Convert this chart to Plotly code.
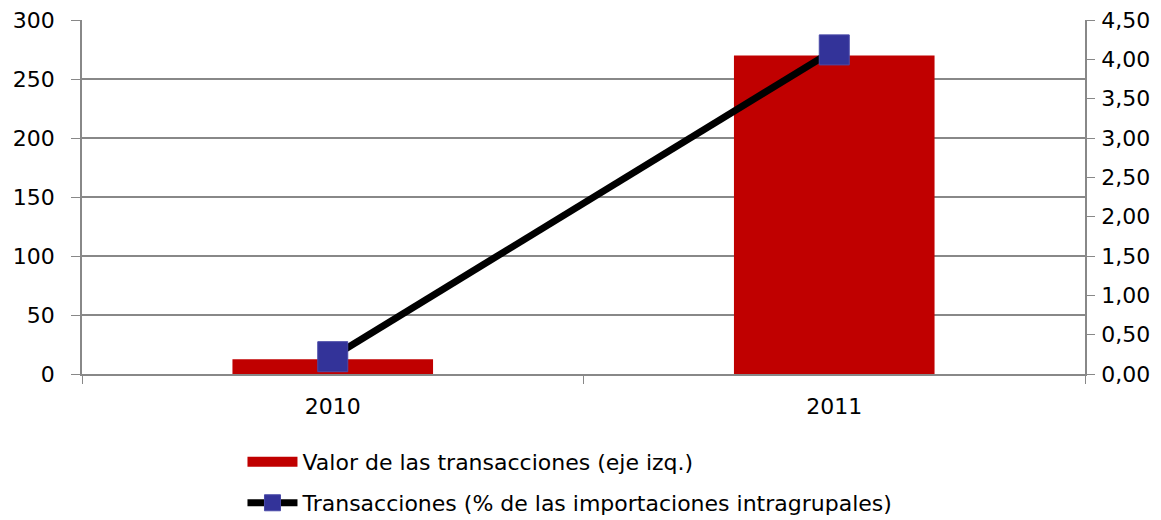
import plotly.graph_objects as go

years = ["2010", "2011"]
valor = [12.5, 270]
pct = [0.22, 4.12]

left_ticks = [0, 50, 100, 150, 200, 250, 300]
right_ticks = [0, 0.5, 1, 1.5, 2, 2.5, 3, 3.5, 4, 4.5]
right_text = [f"{v:.2f}".replace(".", ",") for v in right_ticks]

name_bar = "Valor de las transacciones (eje izq.)"
name_line = "Transacciones (% de las importaciones intragrupales)"

fig = go.Figure()
fig.add_trace(go.Bar(
    x=years, y=valor, name=name_bar, showlegend=False, legendgroup="a",
    marker=dict(color="#C00000", line=dict(width=0)), width=0.4, yaxis="y",
))
# legend swatch for the bar series (wide red rectangle)
fig.add_trace(go.Scatter(
    x=[None], y=[None], name=name_bar, legendgroup="a", mode="lines",
    line=dict(color="#C00000", width=12), yaxis="y", hoverinfo="skip",
    legend="legend",
))
fig.add_trace(go.Scatter(
    x=years, y=pct, name=name_line, legendgroup="b",
    mode="lines+markers", yaxis="y2", legend="legend2",
    line=dict(color="#000000", width=7),
    marker=dict(symbol="square", size=30, color="#333399", line=dict(color="#4a4aa8", width=1)),
))

grid_c = "#888888"
font = dict(family="DejaVu Sans, Liberation Sans, Arial, sans-serif", size=22, color="#000000")

fig.update_layout(
    width=1161, height=520,
    margin=dict(l=82, r=76, t=20, b=146, autoexpand=False),
    paper_bgcolor="white", plot_bgcolor="white",
    font=font,
    showlegend=True,
    legend=dict(orientation="v", x=0.16, xanchor="left", y=-0.189, yanchor="top",
                font=font, itemwidth=50, bgcolor="rgba(0,0,0,0)"),
    legend2=dict(orientation="v", x=0.16, xanchor="left", y=-0.305, yanchor="top",
                 font=font, itemwidth=50, bgcolor="rgba(0,0,0,0)"),
    xaxis=dict(type="category", tickson="boundaries", ticks="outside", ticklen=8,
               tickcolor=grid_c, showline=True, linecolor=grid_c, linewidth=1.5,
               showgrid=False, tickfont=font, automargin=False, range=[-0.5, 1.5],
               ticklabelstandoff=12),
    yaxis=dict(range=[0, 300], tickvals=left_ticks, ticks="outside", ticklen=9,
               tickcolor=grid_c, showline=True, linecolor=grid_c, linewidth=1.5,
               showgrid=True, gridcolor=grid_c, gridwidth=1.5, zeroline=False,
               tickfont=font, automargin=False, ticklabelstandoff=12,
               ticklabeloverflow="allow"),
    yaxis2=dict(range=[0, 4.5], tickvals=right_ticks, ticktext=right_text,
                overlaying="y", side="right", ticks="outside", ticklen=8,
                tickcolor=grid_c, showline=True, linecolor=grid_c, linewidth=1.5,
                showgrid=False, zeroline=False, tickfont=font, automargin=False,
                ticklabelstandoff=2, ticklabeloverflow="allow"),
)

fig.write_html("out.html", config={"displayModeBar": False},
               post_script="document.body.style.margin='0';")
